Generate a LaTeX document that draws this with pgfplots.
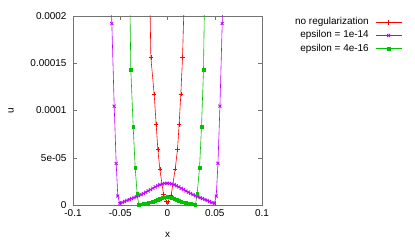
\documentclass[border=0pt]{standalone}
\usepackage{fontspec}
\setmainfont{Liberation Sans}
\usepackage{pgfplots}
\pgfplotsset{compat=1.18}
\definecolor{cred}{HTML}{FF0000}
\definecolor{cpurple}{HTML}{C000FF}
\definecolor{cgreen}{HTML}{00C000}
\begin{document}
\fontsize{10}{12}\selectfont
\begin{tikzpicture}
\path[use as bounding box] (0,0) rectangle (415bp,249bp);
\begin{axis}[
  at={(73bp,44bp)}, anchor=south west,
  scale only axis, width=189bp, height=189bp,
  xmin=-0.1, xmax=0.1, ymin=0, ymax=0.0002,
  xtick={-0.1,-0.05,0,0.05,0.1}, xticklabels={-0.1,-0.05,0,0.05,0.1},
  ytick={0,0.00005,0.0001,0.00015,0.0002}, yticklabels={0,5e-05,0.0001,0.00015,0.0002},
  scaled ticks=false,
  tick align=inside,
  major tick length=4bp,
  axis line style={black!55},
  every tick/.style={black!55},
  tick label style={font=\fontsize{10}{12}\selectfont, text=black},
  xticklabel style={yshift=-1bp},
  yticklabel style={xshift=-3bp},
  xlabel={x}, ylabel={u},
  label style={font=\fontsize{10}{12}\selectfont},
  xlabel style={at={(axis description cs:0.5,-0.159)}, anchor=center},
  ylabel style={at={(axis description cs:-0.328,0.5)}, anchor=center},
  legend style={at={(axis description cs:1.74,1.0)}, anchor=north east, draw=none, fill=none,
    inner sep=0pt, outer sep=0pt, row sep=0pt, column sep=5bp,
    font=\fontsize{10}{12}\selectfont,
    nodes={inner sep=1.5bp, text height=7.5bp, text depth=2.5bp}},
  legend cell align=right,
  legend plot pos=right,
  legend image code/.code={\draw[mark repeat=2,mark phase=2,#1] plot coordinates {(0bp,0bp) (13bp,0bp) (26bp,0bp)};},
]
\addplot[cred, line width=0.6bp, mark=+, mark size=2.1bp, mark options={line width=0.6bp}] coordinates {
(-0.0200,0.0003) (-0.0176,0.000156) (-0.0141,0.0001173) (-0.0120,0.0000852) (-0.0102,0.0000588)
(-0.0081,0.0000377) (-0.0042,0.0000113) (-0.0010,0.0000035) (0.0005,0.0000035)
(0.0039,0.0000106) (0.0081,0.0000377) (0.0106,0.0000588) (0.0123,0.0000852) (0.0141,0.0001173)
(0.0159,0.000156) (0.0200,0.0003)
};
\addlegendentry{no regularization}
\addplot[cpurple, line width=0.6bp, mark=x, mark size=2.1bp, mark options={line width=0.8bp}] coordinates {
(-0.0614,0.00028) (-0.0589,0.000192) (-0.0564,0.0001046) (-0.0543,0.000044) (-0.0526,0.0000095)
(-0.0505,1.5e-6) (-0.048,2.6e-6) (-0.0455,3.7e-6) (-0.043,4.8e-6) (-0.0405,5.8e-6)
(-0.038,6.8e-6) (-0.0355,7.8e-6) (-0.033,8.8e-6) (-0.0305,9.9e-6) (-0.028,11.0e-6)
(-0.0255,12.2e-6) (-0.023,13.5e-6) (-0.0205,14.9e-6) (-0.018,16.3e-6) (-0.0155,17.7e-6)
(-0.013,19.1e-6) (-0.0105,20.4e-6) (-0.008,21.5e-6) (-0.0055,22.3e-6) (-0.003,22.8e-6)
(-0.0005,23.0e-6)
(0.002,22.8e-6) (0.0045,22.3e-6) (0.007,21.5e-6) (0.0095,20.4e-6) (0.012,19.1e-6)
(0.0145,17.7e-6) (0.017,16.3e-6) (0.0195,14.9e-6) (0.022,13.5e-6) (0.0245,12.2e-6)
(0.027,11.0e-6) (0.0295,9.9e-6) (0.032,8.8e-6) (0.0345,7.8e-6) (0.037,6.8e-6)
(0.0395,5.8e-6) (0.042,4.8e-6) (0.0445,3.7e-6) (0.047,2.6e-6) (0.0495,1.5e-6)
(0.0516,0.0000095) (0.0534,0.000044) (0.0555,0.0001046) (0.0579,0.000192) (0.0604,0.00028)
};
\addlegendentry{epsilon = 1e-14}
\addplot[cgreen, line width=0.6bp, mark=square*, mark size=1.3bp] coordinates {
(-0.0410,0.0003) (-0.0388,0.000143) (-0.0363,0.0000828) (-0.0342,0.0000394) (-0.0321,0.0000116)
(-0.0304,0.3e-6) (-0.0279,0.8e-6) (-0.0254,1.3e-6) (-0.0229,1.8e-6) (-0.0204,2.4e-6)
(-0.0179,3.0e-6) (-0.0154,3.7e-6) (-0.0129,4.5e-6) (-0.0104,5.4e-6) (-0.0079,6.4e-6)
(-0.0054,7.4e-6) (-0.0029,8.1e-6) (-0.0004,8.4e-6)
(0.0021,8.1e-6) (0.0046,7.4e-6) (0.0071,6.4e-6) (0.0096,5.4e-6) (0.0121,4.5e-6)
(0.0146,3.7e-6) (0.0171,3.0e-6) (0.0196,2.4e-6) (0.0221,1.8e-6) (0.0246,1.3e-6)
(0.0271,0.8e-6) (0.0296,0.3e-6)
(0.0314,0.0000116) (0.0339,0.0000394) (0.0360,0.0000828) (0.0381,0.000143) (0.0403,0.0003)
};
\addlegendentry{epsilon = 4e-16}
\end{axis}
\end{tikzpicture}
\end{document}
